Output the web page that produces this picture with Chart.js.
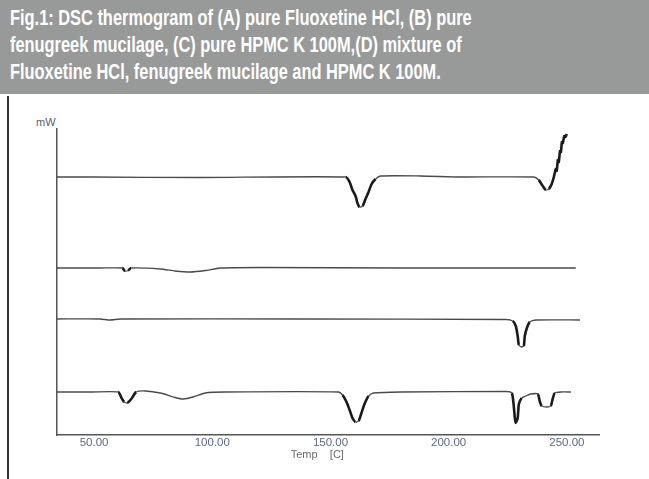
<!DOCTYPE html>
<html>
<head>
<meta charset="utf-8">
<script src="https://cdn.jsdelivr.net/npm/chart.js@4"></script>
<style>
  html, body { margin: 0; padding: 0; background: #fff; }
  body { width: 649px; height: 479px; position: relative; overflow: hidden; }
  #header {
    position: absolute; left: 0; top: 0; width: 649px; height: 94px;
    background: #989a9a;
  }
  .hl {
    position: absolute; left: 10px; color: #fff; white-space: nowrap;
    font-family: "Liberation Sans", sans-serif;
    font-weight: bold; font-size: 22px; line-height: 24px;
    transform: scaleX(0.745); transform-origin: 0 0;
  }
  #leftBorder { position: absolute; left: 7px; top: 96px; width: 2px; height: 383px; background: #333; }
  #mw {
    position: absolute; left: 36px; top: 116px; font-family: "Liberation Sans", sans-serif;
    font-size: 11px; color: #5a6070;
  }
  #wrap { position: absolute; left: 0; top: 96px; width: 649px; height: 383px; }
</style>
</head>
<body>
<div id="header">
  <div class="hl" style="top:6px">Fig.1: DSC thermogram of (A) pure Fluoxetine HCl, (B) pure</div>
  <div class="hl" style="top:33px">fenugreek mucilage, (C) pure HPMC K 100M,(D) mixture of</div>
  <div class="hl" style="top:60px">Fluoxetine HCl, fenugreek mucilage and HPMC K 100M.</div>
</div>
<div id="leftBorder"></div>
<div id="mw">mW</div>
<div id="wrap"><canvas id="dscChart"></canvas></div>
<script>
// x-axis tick labels (Temp, C)
const xTicks = [50, 100, 150, 200, 250];

// (A) pure Fluoxetine HCl
const tempA = [34.3, 49.2, 94.9, 156.4, 158.1, 159.3, 160.6, 161.4, 162.3, 163.6, 164.8, 166.1, 167.4, 169.1, 171.2, 188.1, 205.1, 236.0, 238.1, 239.8, 241.1, 242.4, 243.6, 244.5, 245.3, 245.7, 246.2, 246.6, 247.1, 247.5, 247.9, 248.3, 248.9, 249.4, 250.0];
const mwA   = [25.8, 25.8, 25.75, 25.8, 25.3, 24.5, 23.9, 23.2, 22.8, 22.9, 23.6, 24.3, 25.1, 25.6, 25.9, 25.9, 25.8, 25.8, 25.5, 24.9, 24.5, 24.6, 25.1, 25.8, 26.6, 26.4, 27.5, 27.3, 28.4, 28.3, 29.3, 29.2, 29.9, 29.8, 30.1];

// (B) pure fenugreek mucilage
const tempB = [34.3, 52.5, 61.9, 63.1, 64.4, 65.7, 78.0, 84.3, 90.7, 97.0, 103.4, 120.3, 180.0, 253.8];
const mwB   = [16.7, 16.7, 16.7, 16.4, 16.45, 16.7, 16.6, 16.4, 16.3, 16.45, 16.7, 16.75, 16.7, 16.7];

// (C) pure HPMC K 100M
const tempC = [34.3, 52.5, 56.8, 61.0, 137.3, 224.2, 227.1, 228.4, 229.2, 229.7, 230.9, 231.8, 232.2, 233.1, 234.3, 236.9, 255.5];
const mwC   = [11.6, 11.6, 11.5, 11.6, 11.6, 11.55, 11.4, 10.9, 9.9, 9.0, 8.8, 8.9, 9.9, 10.7, 11.3, 11.5, 11.5];

// (D) mixture
const tempD = [34.3, 49.2, 60.2, 61.4, 62.7, 64.0, 65.7, 67.8, 71.6, 78.0, 84.3, 87.7, 91.9, 97.0, 105.5, 153.4, 155.1, 156.8, 158.1, 159.3, 160.6, 161.9, 163.1, 164.4, 166.1, 168.2, 179.7, 224.2, 226.7, 227.5, 228.0, 228.4, 229.2, 229.7, 230.9, 232.6, 234.7, 237.7, 238.6, 239.4, 241.5, 243.2, 244.1, 244.9, 247.5, 251.7];
const mwD   = [4.3, 4.3, 4.3, 3.8, 3.3, 3.2, 3.6, 4.3, 4.4, 4.2, 3.75, 3.6, 3.8, 4.2, 4.3, 4.3, 4.0, 3.3, 2.5, 1.7, 1.3, 1.4, 2.2, 3.1, 3.9, 4.2, 4.3, 4.35, 4.2, 3.0, 1.7, 1.2, 1.7, 3.1, 3.7, 3.9, 4.1, 4.1, 3.3, 2.9, 2.8, 2.9, 3.7, 4.2, 4.3, 4.3];

function toPoints(xs, ys) {
    return xs.map((x, i) => ({ x: x, y: ys[i] }));
}

// steep parts of the traces are drawn darker and heavier, like the scan
const steepWidth = ctx => {
    const dx = Math.abs(ctx.p1.x - ctx.p0.x);
    const dy = Math.abs(ctx.p1.y - ctx.p0.y);
    return dy > dx * 0.8 ? 2.6 : 1.3;
};
const steepColor = ctx => {
    const dx = Math.abs(ctx.p1.x - ctx.p0.x);
    const dy = Math.abs(ctx.p1.y - ctx.p0.y);
    return dy > dx * 0.8 ? '#1a1a1a' : '#4a4a4a';
};

function trace(label, xs, ys) {
    return {
        label: label,
        data: toPoints(xs, ys),
        borderColor: '#4a4a4a',
        borderWidth: 1.3,
        pointRadius: 0,
        tension: 0.2,
        segment: { borderWidth: steepWidth, borderColor: steepColor }
    };
}

const ctx = document.getElementById('dscChart').getContext('2d');
new Chart(ctx, {
    type: 'line',
    data: {
        datasets: [
            trace('A', tempA, mwA),
            trace('B', tempB, mwB),
            trace('C', tempC, mwC),
            trace('D', tempD, mwD)
        ]
    },
    options: {
        responsive: true,
        maintainAspectRatio: false,
        animation: false,
        layout: { padding: { left: 57, top: 33, right: 50, bottom: 0 } },
        plugins: { legend: { display: false }, tooltip: { enabled: false } },
        scales: {
            x: {
                type: 'linear',
                min: 34.3,
                max: 263.6,
                afterBuildTicks: scale => { scale.ticks = xTicks.map(v => ({ value: v })); },
                afterFit: scale => { scale.height = 44; },
                ticks: {
                    callback: v => v.toFixed(2),
                    color: '#5a6a88',
                    font: { family: 'Liberation Sans', size: 11.5 },
                    padding: 1,
                    maxRotation: 0
                },
                grid: { drawOnChartArea: false, drawTicks: false },
                border: { color: '#555', width: 1.5 },
                title: {
                    display: true,
                    // trailing spaces nudge the centred title left, as in the source
                    text: 'Temp    [C]       ',
                    color: '#6a6a72',
                    font: { family: 'Liberation Sans', size: 11 },
                    padding: { top: 0, bottom: 17 }
                }
            },
            y: {
                min: 0,
                max: 30.6,
                ticks: { display: false },
                grid: { drawOnChartArea: false, drawTicks: false },
                border: { color: '#555', width: 1.5 }
            }
        }
    }
});
</script>
</body>
</html>
